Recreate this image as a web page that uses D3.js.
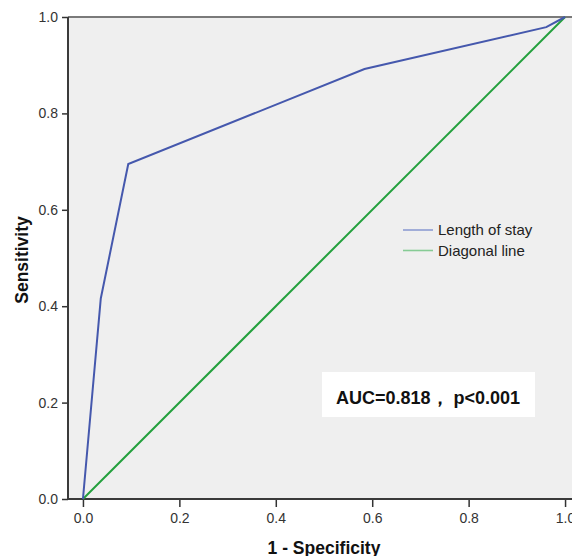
<!DOCTYPE html>
<html>
<head>
<meta charset="utf-8">
<script src="https://cdn.jsdelivr.net/npm/d3@7"></script>
<style>
    body { margin: 0; background: #fff; }
    svg { display: block; font-family: "Liberation Sans", Arial, sans-serif; }
</style>
</head>
<body>
<div id="chart"></div>
<script>
// ROC points
const rocFpr = [0, 0.037, 0.094, 0.584, 0.961, 1];
const rocTpr = [0, 0.416, 0.695, 0.892, 0.979, 1];
const diagFpr = [0, 1];
const diagTpr = [0, 1];
const tickValues = [0, 0.2, 0.4, 0.6, 0.8, 1.0];
const seriesNames = ["Length of stay", "Diagonal line"];
const aucText = "AUC=0.818， p<0.001";

/*
SETTING UP THE SVG CANVAS
*/
const width = 572;
const height = 556;
const margin = { top: 17, left: 68, right: -8, bottom: 57 };

const svg = d3.select("#chart")
    .append("svg")
    .attr("width", width)
    .attr("height", height);

/*
DEFINE SCALES
*/
const xScale = d3.scaleLinear()
    .domain([-0.031, 1.031])
    .range([margin.left, width - margin.right]);

const yScale = d3.scaleLinear()
    .domain([0, 1])
    .range([height - margin.bottom, margin.top]);

// plot background
svg.append("rect")
    .attr("x", margin.left)
    .attr("y", margin.top)
    .attr("width", width - margin.right - margin.left)
    .attr("height", height - margin.bottom - margin.top)
    .attr("fill", "#efefef");

// top border
svg.append("line")
    .attr("x1", margin.left).attr("x2", width - margin.right)
    .attr("y1", margin.top).attr("y2", margin.top)
    .attr("stroke", "#7a7a7a")
    .attr("stroke-width", 2);

/*
GENERATE AXES
*/
const xAxis = svg.append("g")
    .attr("transform", `translate(0,${height - margin.bottom})`)
    .call(d3.axisBottom(xScale).tickValues(tickValues).tickFormat(d3.format(".1f")).tickSize(8).tickPadding(6));

const yAxis = svg.append("g")
    .attr("transform", `translate(${margin.left},0)`)
    .call(d3.axisLeft(yScale).tickValues(tickValues).tickFormat(d3.format(".1f")).tickSize(6).tickPadding(4));

svg.selectAll(".domain").remove();
svg.selectAll(".tick line").attr("stroke", "#333").attr("stroke-width", 1.5);
svg.selectAll(".tick text")
    .attr("fill", "#333")
    .style("font-size", "14px");

// axis lines
svg.append("line")
    .attr("x1", margin.left).attr("x2", width - margin.right)
    .attr("y1", yScale(0)).attr("y2", yScale(0))
    .attr("stroke", "#3a3a3a")
    .attr("stroke-width", 2);

svg.append("line")
    .attr("x1", margin.left).attr("x2", margin.left)
    .attr("y1", yScale(1)).attr("y2", yScale(0))
    .attr("stroke", "#3a3a3a")
    .attr("stroke-width", 2);

/*
DRAW THE LINES
*/
const line = d3.line()
    .x(d => xScale(d[0]))
    .y(d => yScale(d[1]));

svg.append("path")
    .datum(d3.zip(diagFpr, diagTpr))
    .attr("d", line)
    .attr("fill", "none")
    .attr("stroke", "#23a03d")
    .attr("stroke-width", 2);

svg.append("path")
    .datum(d3.zip(rocFpr, rocTpr))
    .attr("d", line)
    .attr("fill", "none")
    .attr("stroke", "#4558ad")
    .attr("stroke-width", 2);

/*
LEGEND
*/
const legendColors = ["#8e9dd2", "#86cb95"];
const legend = svg.selectAll(".legend")
    .data(seriesNames)
    .enter()
    .append("g")
    .attr("class", "legend")
    .attr("transform", (d, i) => `translate(403,${230 + i * 20.5})`);

legend.append("line")
    .attr("x1", 0).attr("x2", 30)
    .attr("stroke", (d, i) => legendColors[i])
    .attr("stroke-width", 1.6);

legend.append("text")
    .attr("x", 35)
    .attr("y", 5)
    .attr("fill", "#222")
    .style("font-size", "15px")
    .text(d => d);

/*
AUC BOX
*/
svg.append("rect")
    .attr("x", 322)
    .attr("y", 372)
    .attr("width", 213)
    .attr("height", 45)
    .attr("fill", "#fff");

svg.append("text")
    .attr("x", 336)
    .attr("y", 404)
    .attr("fill", "#111")
    .style("font-size", "18px")
    .style("font-weight", "bold")
    .text(aucText);

/*
AXIS LABELS
*/
svg.append("text")
    .attr("x", 324)
    .attr("y", 554)
    .attr("text-anchor", "middle")
    .attr("fill", "#111")
    .style("font-size", "17.5px")
    .style("font-weight", "bold")
    .text("1 - Specificity");

svg.append("text")
    .attr("transform", "translate(28,260) rotate(-90)")
    .attr("text-anchor", "middle")
    .attr("fill", "#111")
    .style("font-size", "17.5px")
    .style("font-weight", "bold")
    .text("Sensitivity");
</script>
</body>
</html>
